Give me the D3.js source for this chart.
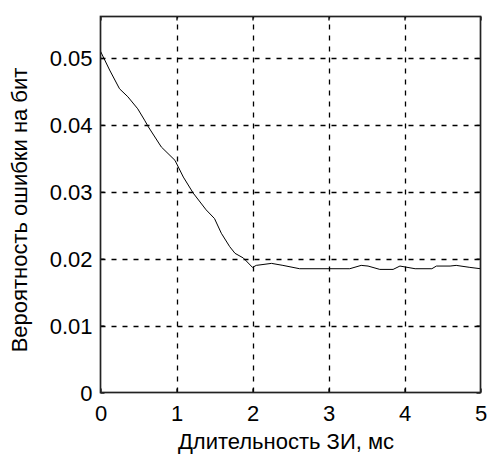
<!DOCTYPE html>
<html><head><meta charset="utf-8">
<script src="https://cdn.jsdelivr.net/npm/d3@7"></script>
<style>
html,body{margin:0;padding:0;background:#fff;}
svg{display:block;}
text{font-family:"Liberation Sans",Arial,sans-serif;fill:#000;}
</style></head>
<body><svg id="c" width="489" height="455"></svg>
<script>
const xVals = [0, 0.12, 0.25, 0.36, 0.49, 0.58, 0.63, 0.80, 0.98, 1.09, 1.22, 1.39, 1.50, 1.59, 1.70, 1.77, 1.88, 2.0, 2.05, 2.25, 2.40, 2.62, 3.28, 3.43, 3.52, 3.675, 3.85, 3.94, 4.14, 4.36, 4.42, 4.6, 4.68, 4.86, 5.0];
const yVals = [0.0510, 0.0482, 0.0454, 0.0442, 0.0424, 0.0407, 0.0397, 0.0367, 0.0347, 0.0322, 0.0298, 0.0273, 0.0260, 0.0238, 0.0218, 0.0208, 0.0201, 0.0187, 0.0190, 0.0193, 0.0190, 0.0185, 0.0185, 0.0190, 0.0189, 0.0184, 0.0184, 0.0189, 0.0185, 0.0185, 0.0189, 0.0189, 0.0190, 0.0187, 0.0185];
const xTicks = [0, 1, 2, 3, 4, 5];
const yTicks = [0, 0.01, 0.02, 0.03, 0.04, 0.05];
const xDomain = [0, 5];
const yDomain = [0, 0.0562];
const xLabel = "Длительность ЗИ, мс";
const yLabel = "Вероятность ошибки на бит";

const L = 100.5, R = 480.5, T = 16.5, B = 392.5;
const svg = d3.select("#c");
const x = d3.scaleLinear().domain(xDomain).range([L, R]);
const y = d3.scaleLinear().domain(yDomain).range([B, T]);

// grid
const g = svg.append("g");
g.selectAll("line.gx").data(xTicks.filter(d => d > xDomain[0] && d < xDomain[1])).join("line")
  .attr("x1", d => Math.round(x(d)) + 0.5).attr("x2", d => Math.round(x(d)) + 0.5)
  .attr("y1", B).attr("y2", T)
  .attr("stroke", "#000").attr("stroke-width", 1.3).attr("stroke-dasharray", "5,6");
g.selectAll("line.gy").data(yTicks.filter(d => d > yDomain[0] && d < yDomain[1])).join("line")
  .attr("y1", d => Math.round(y(d)) + 0.5).attr("y2", d => Math.round(y(d)) + 0.5)
  .attr("x1", L).attr("x2", R)
  .attr("stroke", "#000").attr("stroke-width", 1.3).attr("stroke-dasharray", "5,6");

// curve
const line = d3.line().x((d, i) => x(xVals[i])).y((d, i) => y(d));
svg.append("path").datum(yVals).attr("d", line)
  .attr("fill", "none").attr("stroke", "#000").attr("stroke-width", 1);

// axes with inward ticks
const tl = 4;
const fmtY = d => d === 0 ? "0" : d3.format(".2f")(d);
const axB = d3.axisBottom(x).tickValues(xTicks).tickSize(-tl).tickPadding(10).tickFormat(d3.format("d"));
const axT = d3.axisTop(x).tickValues(xTicks).tickSize(-tl).tickFormat("");
const axL = d3.axisLeft(y).tickValues(yTicks).tickSize(-tl).tickPadding(10).tickFormat(fmtY);
const axR = d3.axisRight(y).tickValues(yTicks).tickSize(-tl).tickFormat("");
function style(sel) {
  sel.selectAll(".domain").remove();
  sel.selectAll(".tick line").attr("stroke", "#000").attr("stroke-width", 1.3);
  sel.selectAll("text").attr("font-size", 22).attr("font-family", '"Liberation Sans",Arial,sans-serif').attr("fill", "#000");
}
const gB = svg.append("g").attr("transform", `translate(0,${B})`).call(axB).call(style);
gB.selectAll("text").attr("dy", null).attr("y", 28);
svg.append("g").attr("transform", `translate(0,${T})`).call(axT).call(style);
const gL = svg.append("g").attr("transform", `translate(${L},0)`).call(axL).call(style);
gL.selectAll("text").attr("x", -8).attr("dy", "0.36em");
svg.append("g").attr("transform", `translate(${R},0)`).call(axR).call(style);

// box
svg.append("rect").attr("x", L).attr("y", T).attr("width", R - L).attr("height", B - T)
  .attr("fill", "none").attr("stroke", "#222").attr("stroke-width", 1.7);

// labels
svg.append("text").attr("x", 286).attr("y", 449).attr("text-anchor", "middle")
  .attr("font-size", 22).text(xLabel);
svg.append("text").attr("transform", "translate(27,210) rotate(-90)").attr("text-anchor", "middle")
  .attr("font-size", 22).text(yLabel);
</script></body></html>
